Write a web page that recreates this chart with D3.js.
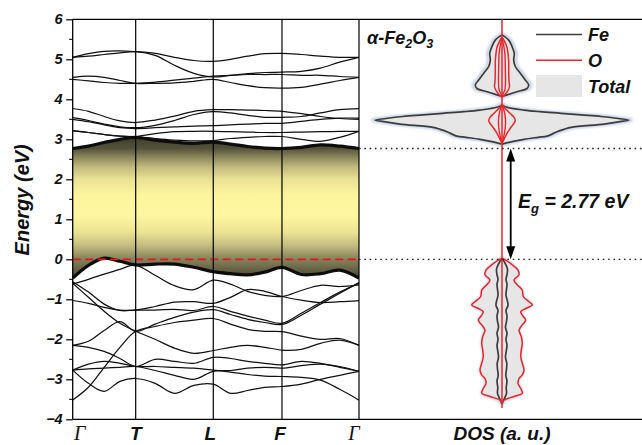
<!DOCTYPE html>
<html>
<head>
<meta charset="utf-8">
<script src="https://cdn.jsdelivr.net/npm/d3@7"></script>
<style>
  html, body { margin: 0; padding: 0; background: #fff; }
  svg { display: block; }
</style>
</head>
<body>
<svg id="chart" width="642" height="445"></svg>
<script>
// ---------- data ----------
const kLabels = ["Γ", "T", "L", "F", "Γ"];
const kPath = [0, 0.22, 0.491, 0.731, 1];          // cumulative path length (normalised)
const energyTicks = [-4, -3, -2, -1, 0, 1, 2, 3, 4, 5, 6];
const bandGap = 2.77;                                // eV

// band energies (eV) sampled at 0, 1/4, 1/2, 3/4 of every path segment plus the end point
const cbmBand = [2.77, 2.83, 2.92, 3.0, 3.05, 2.98, 2.93, 2.9, 2.93, 2.88, 2.82, 2.78, 2.77, 2.8, 2.86, 2.83, 2.77];
const vbmBand = [-0.47, -0.15, 0.03, -0.05, -0.14, -0.12, -0.12, -0.2, -0.31, -0.36, -0.39, -0.32, -0.2, -0.38, -0.36, -0.27, -0.47];

const conductionBands = [
  [3.21, 3.17, 3.12, 3.08, 3.06, 3.02, 2.98, 2.96, 2.97, 3.02, 3.05, 3.07, 3.07, 3.0, 2.95, 3.05, 3.2],
  [3.22, 3.17, 3.12, 3.08, 3.07, 3.14, 3.19, 3.2, 3.2, 3.19, 3.18, 3.17, 3.17, 3.18, 3.19, 3.2, 3.2],
  [3.5, 3.44, 3.36, 3.29, 3.27, 3.29, 3.31, 3.33, 3.34, 3.36, 3.38, 3.4, 3.4, 3.45, 3.5, 3.53, 3.53],
  [3.54, 3.47, 3.38, 3.31, 3.29, 3.35, 3.47, 3.62, 3.69, 3.66, 3.6, 3.55, 3.55, 3.57, 3.66, 3.74, 3.77],
  [3.77, 3.7, 3.57, 3.46, 3.42, 3.48, 3.58, 3.7, 3.74, 3.74, 3.73, 3.72, 3.7, 3.64, 3.57, 3.52, 3.5],
  [4.5, 4.46, 4.42, 4.4, 4.4, 4.43, 4.48, 4.53, 4.58, 4.6, 4.62, 4.62, 4.62, 4.6, 4.6, 4.57, 4.55],
  [4.55, 4.58, 4.55, 4.47, 4.4, 4.4, 4.41, 4.45, 4.5, 4.42, 4.34, 4.29, 4.28, 4.3, 4.38, 4.47, 4.55],
  [5.05, 5.08, 5.12, 5.16, 5.19, 5.1, 4.85, 4.65, 4.56, 4.6, 4.64, 4.67, 4.68, 4.7, 4.78, 4.93, 5.05],
  [5.05, 5.14, 5.2, 5.21, 5.19, 5.15, 5.05, 4.97, 4.95, 5.0, 5.08, 5.14, 5.15, 5.12, 5.08, 5.05, 5.05]
];

const valenceBands = [
  [-0.62, -0.5, -0.37, -0.25, -0.15, -0.4, -0.66, -0.76, -0.52, -0.62, -0.8, -0.9, -0.93, -0.78, -0.65, -0.68, -0.64],
  [-1.03, -1.1, -1.2, -1.27, -1.27, -1.18, -1.07, -1.06, -1.1, -0.95, -0.76, -0.8, -0.93, -1.02, -1.08, -1.06, -1.03],
  [-0.56, -0.82, -1.12, -1.28, -1.27, -1.27, -1.25, -1.28, -1.18, -1.3, -1.42, -1.52, -1.6, -1.35, -1.08, -0.82, -0.6],
  [-0.6, -0.95, -1.3, -1.6, -1.8, -2.0, -2.22, -2.35, -2.28, -2.2, -2.15, -2.2, -2.27, -2.25, -2.1, -2.02, -2.15],
  [-2.15, -2.05, -1.78, -1.56, -1.8, -1.62, -1.45, -1.32, -1.26, -1.38, -1.5, -1.58, -1.63, -1.4, -1.12, -0.85, -0.58],
  [-2.15, -2.2, -2.3, -2.48, -2.68, -2.5, -2.55, -2.6, -2.45, -2.48, -2.55, -2.6, -2.64, -2.55, -2.6, -2.7, -2.8],
  [-2.77, -2.62, -2.55, -2.6, -2.68, -2.68, -2.7, -2.72, -2.77, -2.82, -2.88, -2.92, -2.93, -2.95, -3.02, -3.25, -3.52],
  [-2.77, -2.74, -2.72, -2.7, -2.68, -2.78, -2.9, -3.0, -2.8, -2.78, -2.72, -2.7, -2.72, -2.66, -2.62, -2.68, -2.8],
  [-2.77, -3.1, -3.3, -3.05, -2.98, -3.1, -3.35, -3.15, -3.12, -3.35, -3.28, -3.2, -3.18, -3.12, -3.0, -2.9, -2.8],
  [-3.52, -3.2, -2.7, -2.2, -1.8, -1.68, -1.58, -1.52, -1.48, -1.62, -1.75, -1.8, -1.81, -1.92, -2.0, -1.98, -2.15]
];

// density of states, [energy (eV), DOS (a.u.)]
const dosTotal = [
  [-3.6, 0], [-3.52, 0.3], [-3.43, 1.2], [-3.35, 1.95], [-3.23, 1.8], [-3.1, 1.55], [-2.98, 1.65], [-2.89, 1.95],
  [-2.77, 2.1], [-2.6, 1.95], [-2.43, 1.8], [-2.27, 1.85], [-2.1, 1.95], [-1.93, 1.85], [-1.77, 1.65], [-1.64, 1.95],
  [-1.52, 2.25], [-1.43, 2.0], [-1.31, 1.85], [-1.23, 2.3], [-1.14, 2.95], [-1.06, 2.6], [-0.93, 2.0], [-0.77, 1.9],
  [-0.64, 1.45], [-0.52, 1.2], [-0.39, 1.55], [-0.27, 1.45], [-0.14, 1.0], [-0.05, 0.5], [0.02, 0], [2.86, 0],
  [2.94, 1.15], [3.0, 2.4], [3.05, 3.8], [3.08, 4.7], [3.13, 5.2], [3.19, 5.7], [3.25, 6.4], [3.3, 7.1], [3.38, 10.4],
  [3.44, 12.0], [3.48, 12.9], [3.52, 11.8], [3.57, 10.1], [3.61, 8.1], [3.65, 6.1], [3.69, 4.0], [3.73, 2.4], [3.8, 0.7],
  [3.88, 0], [4.04, 0], [4.09, 0.4], [4.19, 1.7], [4.27, 2.7], [4.36, 2.85], [4.48, 2.5], [4.65, 2.0], [4.82, 1.5],
  [4.98, 1.33], [5.15, 1.4], [5.32, 1.15], [5.48, 0.8], [5.63, 0]
];
const dosFe = [
  [-3.62, 0], [-3.55, 0.1], [-3.45, 0.3], [-3.35, 0.45], [-3.2, 0.42], [-3.05, 0.5], [-2.9, 0.38], [-2.75, 0.45],
  [-2.6, 0.48], [-2.45, 0.35], [-2.3, 0.42], [-2.15, 0.5], [-2.0, 0.4], [-1.85, 0.5], [-1.7, 0.35], [-1.55, 0.45],
  [-1.42, 0.5], [-1.28, 0.4], [-1.15, 0.6], [-1.05, 0.55], [-0.9, 0.4], [-0.75, 0.45], [-0.62, 0.5], [-0.5, 0.4],
  [-0.38, 0.5], [-0.25, 0.55], [-0.12, 0.35], [-0.05, 0.2], [0.02, 0], [2.88, 0], [2.94, 1.0], [3.0, 2.2], [3.05, 3.6],
  [3.08, 4.5], [3.13, 5.0], [3.19, 5.5], [3.25, 6.2], [3.3, 6.9], [3.38, 10.2], [3.44, 11.8], [3.48, 12.7], [3.52, 11.6],
  [3.57, 9.9], [3.61, 7.9], [3.65, 5.9], [3.69, 3.8], [3.73, 2.2], [3.8, 0.5], [3.86, 0], [4.07, 0], [4.11, 0.5],
  [4.19, 1.5], [4.27, 2.5], [4.36, 2.67], [4.48, 2.33], [4.65, 1.83], [4.82, 1.33], [4.98, 1.17], [5.15, 1.23],
  [5.32, 1.0], [5.48, 0.67], [5.61, 0]
];
const dosO = [
  [-3.6, 0], [-3.52, 0.2], [-3.43, 1.2], [-3.35, 2.03], [-3.23, 1.87], [-3.1, 1.6], [-2.98, 1.7], [-2.89, 2.03],
  [-2.77, 2.2], [-2.6, 2.03], [-2.43, 1.87], [-2.27, 1.93], [-2.1, 2.03], [-1.93, 1.93], [-1.77, 1.7], [-1.64, 2.03],
  [-1.52, 2.37], [-1.43, 2.13], [-1.31, 1.87], [-1.23, 2.37], [-1.14, 3.03], [-1.06, 2.7], [-0.93, 2.13], [-0.77, 2.03],
  [-0.64, 1.53], [-0.52, 1.2], [-0.39, 1.7], [-0.27, 1.6], [-0.14, 1.03], [-0.02, 0.37], [0.02, 0], [2.9, 0],
  [3.0, 0.2], [3.15, 0.5], [3.3, 0.9], [3.4, 1.2], [3.47, 1.33], [3.55, 1.2], [3.65, 0.8], [3.75, 0.4], [3.82, 0.15],
  [3.88, 0], [4.05, 0], [4.12, 0.3], [4.22, 0.6], [4.32, 0.75], [4.45, 0.7], [4.7, 0.67], [4.95, 0.67], [5.15, 0.6],
  [5.3, 0.5], [5.45, 0.25], [5.55, 0]
];
const dosOMinor = [
  [2.92, 0], [3.1, 0.2], [3.3, 0.33], [3.5, 0.35], [3.7, 0.22], [3.85, 0], [4.07, 0], [4.13, 0.1], [4.25, 0.3],
  [4.45, 0.35], [4.8, 0.33], [5.1, 0.3], [5.3, 0.2], [5.45, 0.08], [5.52, 0]
];

// ---------- layout ----------
const svg = d3.select("#chart");
const W = 642, H = 445;
const yTop = 19.3, yBottom = 419.3;
const bandX0 = 72.7, bandX1 = 359;
const dosCenter = 502;

const y = d3.scaleLinear().domain([-4, 6]).range([yBottom, yTop]);
const x = d3.scaleLinear().domain([0, 1]).range([bandX0, bandX1]);
const xd = d3.scaleLinear().domain([-13, 13]).range([dosCenter - 130, dosCenter + 130]);

const sans = "'Liberation Sans', Arial, sans-serif";

// k coordinate of every sample point
const kGrid = [];
for (let s = 0; s < kPath.length - 1; s++) {
  for (const f of [0, 0.25, 0.5, 0.75]) kGrid.push(kPath[s] + f * (kPath[s + 1] - kPath[s]));
}
kGrid.push(kPath[kPath.length - 1]);

const defs = svg.append("defs");

// vertical shading of the gap region
const gapShade = [
  [3.1, "#3a3828"], [2.77, "#55523a"], [2.55, "#8c875c"], [2.3, "#c2bb7e"], [2.0, "#eae293"],
  [1.6, "#fdf59e"], [1.1, "#fef6a0"], [0.7, "#ede594"], [0.35, "#c4bd80"], [0.05, "#8e8860"], [-0.5, "#46432f"]
];
const grad = defs.append("linearGradient")
  .attr("id", "gapGrad").attr("gradientUnits", "userSpaceOnUse")
  .attr("x1", 0).attr("x2", 0).attr("y1", y(3.1)).attr("y2", y(-0.5));
gapShade.forEach(([e, c]) => grad.append("stop")
  .attr("offset", (y(e) - y(3.1)) / (y(-0.5) - y(3.1))).attr("stop-color", c));

defs.append("filter").attr("id", "soft").attr("x", "-20%").attr("y", "-5%").attr("width", "140%").attr("height", "110%")
  .append("feGaussianBlur").attr("stdDeviation", 1.3);

defs.append("clipPath").attr("id", "bandClip").append("rect")
  .attr("x", bandX0).attr("y", yTop).attr("width", bandX1 - bandX0).attr("height", yBottom - yTop);

// ---------- band structure ----------
const bandLine = d3.line()
  .x((d, i) => x(kGrid[i]))
  .y(d => y(d))
  .curve(d3.curveCatmullRom.alpha(0.5));

const bandG = svg.append("g").attr("clip-path", "url(#bandClip)");

bandG.append("path")
  .datum(kGrid.map((k, i) => [k, vbmBand[i], cbmBand[i]]))
  .attr("d", d3.area()
    .x(d => x(d[0])).y0(d => y(d[1])).y1(d => y(d[2]))
    .curve(d3.curveCatmullRom.alpha(0.5)))
  .attr("fill", "url(#gapGrad)");

bandG.selectAll("path.band")
  .data(conductionBands.concat(valenceBands))
  .join("path")
  .attr("class", "band")
  .attr("d", bandLine)
  .attr("fill", "none")
  .attr("stroke", "#111")
  .attr("stroke-width", 1.25);

bandG.selectAll("path.edge")
  .data([cbmBand, vbmBand])
  .join("path")
  .attr("class", "edge")
  .attr("d", bandLine)
  .attr("fill", "none")
  .attr("stroke", "#0d0d0d")
  .attr("stroke-width", 3.2);

// Fermi level
svg.append("line")
  .attr("x1", bandX0).attr("x2", bandX1).attr("y1", y(0)).attr("y2", y(0))
  .attr("stroke", "#e8161b").attr("stroke-width", 1.7).attr("stroke-dasharray", "8,4.5");

// high-symmetry verticals
svg.selectAll("line.kline")
  .data(kPath.slice(1))
  .join("line")
  .attr("class", "kline")
  .attr("x1", d => x(d)).attr("x2", d => x(d))
  .attr("y1", yTop).attr("y2", yBottom)
  .attr("stroke", "#000").attr("stroke-width", 1.2);

// frame
svg.append("line").attr("x1", bandX0).attr("x2", bandX0).attr("y1", yTop).attr("y2", yBottom)
  .attr("stroke", "#000").attr("stroke-width", 1.3);
svg.append("line").attr("x1", bandX0).attr("x2", W).attr("y1", yTop).attr("y2", yTop)
  .attr("stroke", "#000").attr("stroke-width", 1.3);
svg.append("line").attr("x1", bandX0).attr("x2", W).attr("y1", yBottom).attr("y2", yBottom)
  .attr("stroke", "#000").attr("stroke-width", 1.3);

// energy axis
const yAxis = d3.axisLeft(y).tickValues(energyTicks).tickSize(6.5).tickFormat(d3.format("d"));
const axG = svg.append("g").attr("transform", `translate(${bandX0},0)`).call(yAxis);
axG.select(".domain").remove();
axG.selectAll(".tick line").attr("stroke", "#000").attr("stroke-width", 1.2);
axG.selectAll(".tick text")
  .attr("x", -10)
  .style("font-family", sans).style("font-weight", "bold").style("font-style", "italic")
  .style("font-size", "14.5px").attr("fill", "#111");
svg.selectAll("line.minor")
  .data(d3.range(-3.5, 6, 1))
  .join("line")
  .attr("class", "minor")
  .attr("x1", bandX0 - 3.5).attr("x2", bandX0)
  .attr("y1", d => y(d)).attr("y2", d => y(d))
  .attr("stroke", "#000").attr("stroke-width", 1.1);

svg.append("text")
  .attr("transform", `translate(29,${(y(2.5) + y(0.5)) / 2 + 0.5}) rotate(-90)`)
  .attr("text-anchor", "middle")
  .style("font-family", sans).style("font-weight", "bold").style("font-style", "italic")
  .style("font-size", "20px").attr("fill", "#111")
  .text("Energy (eV)");

// k-path labels
const kLabelShift = [7, 0, -3, -2, -5];
svg.selectAll("text.klabel")
  .data(kLabels)
  .join("text")
  .attr("class", "klabel")
  .attr("x", (d, i) => x(kPath[i]) + kLabelShift[i])
  .attr("y", 440)
  .attr("text-anchor", "middle")
  .style("font-family", d => d === "Γ" ? "'Liberation Serif', 'Times New Roman', serif" : sans)
  .style("font-weight", d => d === "Γ" ? "normal" : "bold")
  .style("font-style", "italic")
  .style("font-size", d => d === "Γ" ? "20px" : "19px")
  .attr("fill", "#111")
  .text(d => d);

// ---------- density of states ----------
const sortE = arr => arr.slice().sort((a, b) => a[0] - b[0]);
// split a series into its separate energy windows (runs bounded by zero values)
const windows = arr => {
  const out = [];
  let cur = [];
  for (const p of sortE(arr)) {
    cur.push(p);
    if (p[1] === 0 && cur.length > 1) {
      if (d3.max(cur, d => d[1]) > 0) out.push(cur);
      cur = [p];
    }
  }
  return out;
};
const tot = windows(dosTotal), fe = windows(dosFe), ox = windows(dosO), oxm = windows(dosOMinor);

const dosCurve = d3.curveCatmullRom.alpha(0.5);
const dosArea = d3.area()
  .y(d => y(d[0])).x0(d => xd(-d[1])).x1(d => xd(d[1]))
  .curve(dosCurve);
const sideLine = sgn => d3.line()
  .y(d => y(d[0])).x(d => xd(sgn * d[1]))
  .curve(dosCurve);

// total DOS: soft bluish rim, then grey fill
svg.selectAll("path.totRim").data(tot).join("path").attr("class", "totRim")
  .attr("d", dosArea)
  .attr("fill", "#d6deeb").attr("stroke", "#c6d3e8").attr("stroke-width", 4)
  .attr("filter", "url(#soft)");
svg.selectAll("path.totFill").data(tot).join("path").attr("class", "totFill")
  .attr("d", dosArea)
  .attr("fill", "#e6e6e6");

const drawSides = (runs, color, width, cls) => {
  for (const sgn of [-1, 1]) {
    svg.selectAll(`path.${cls}${sgn > 0 ? "R" : "L"}`).data(runs).join("path")
      .attr("class", `${cls}${sgn > 0 ? "R" : "L"}`)
      .attr("d", sideLine(sgn))
      .attr("fill", "none").attr("stroke", color).attr("stroke-width", width);
  }
};
drawSides(fe, "#3c3c3c", 1.7, "fe");
drawSides(ox, "#e8262c", 1.5, "ox");
drawSides(oxm, "#e8262c", 1.4, "oxm");

// zero-DOS axis of the O projection
svg.append("line")
  .attr("x1", xd(0)).attr("x2", xd(0)).attr("y1", y(6)).attr("y2", y(-3.72))
  .attr("stroke", "#e8262c").attr("stroke-width", 1.5);

// band edges across the DOS panel
svg.selectAll("line.edgeLevel")
  .data([0, bandGap])
  .join("line")
  .attr("class", "edgeLevel")
  .attr("x1", bandX1).attr("x2", W)
  .attr("y1", d => y(d)).attr("y2", d => y(d))
  .attr("stroke", "#222").attr("stroke-width", 1.3).attr("stroke-dasharray", "1.6,3.7");

// gap arrow
const arrowX = 510.7;
svg.append("line")
  .attr("x1", arrowX).attr("x2", arrowX)
  .attr("y1", y(bandGap) + 10).attr("y2", y(0) - 10)
  .attr("stroke", "#000").attr("stroke-width", 1.8);
svg.append("path")
  .attr("d", `M${arrowX},${y(bandGap)} l-4.5,13 l9,0 Z M${arrowX},${y(0)} l-4.5,-13 l9,0 Z`)
  .attr("fill", "#000");

const eg = svg.append("text")
  .attr("x", 518).attr("y", 207.5)
  .style("font-family", sans).style("font-weight", "bold").style("font-style", "italic")
  .style("font-size", "19.5px").attr("fill", "#111");
eg.append("tspan").text("E");
eg.append("tspan").attr("dy", 5).style("font-size", "13px").text("g");
eg.append("tspan").attr("dy", -5).text(` = ${bandGap} eV`);

// compound label
const comp = svg.append("text")
  .attr("x", 367).attr("y", 43.5)
  .style("font-family", sans).style("font-weight", "bold").style("font-style", "italic")
  .style("font-size", "18px").attr("fill", "#111");
comp.append("tspan").text("α-Fe");
comp.append("tspan").attr("dy", 4).style("font-size", "12.5px").text("2");
comp.append("tspan").attr("dy", -4).text("O");
comp.append("tspan").attr("dy", 4).style("font-size", "12.5px").text("3");

// legend
const legend = [
  { name: "Fe", kind: "line", color: "#3c3c3c", cy: 34.5 },
  { name: "O", kind: "line", color: "#e8262c", cy: 60.3 },
  { name: "Total", kind: "rect", color: "#e6e6e6", cy: 86 }
];
const lg = svg.append("g");
legend.forEach(d => {
  if (d.kind === "line") {
    lg.append("line").attr("x1", 536).attr("x2", 582).attr("y1", d.cy).attr("y2", d.cy)
      .attr("stroke", d.color).attr("stroke-width", 1.6);
  } else {
    lg.append("rect").attr("x", 536).attr("y", d.cy - 11).attr("width", 46).attr("height", 22)
      .attr("fill", d.color);
  }
  lg.append("text").attr("x", 588).attr("y", d.cy + 6.5)
    .style("font-family", sans).style("font-weight", "bold").style("font-style", "italic")
    .style("font-size", "18px").attr("fill", "#111").text(d.name);
});

svg.append("text")
  .attr("x", xd(0)).attr("y", 440).attr("text-anchor", "middle")
  .style("font-family", sans).style("font-weight", "bold").style("font-style", "italic")
  .style("font-size", "19px").attr("fill", "#111")
  .text("DOS (a. u.)");
</script>
</body>
</html>
